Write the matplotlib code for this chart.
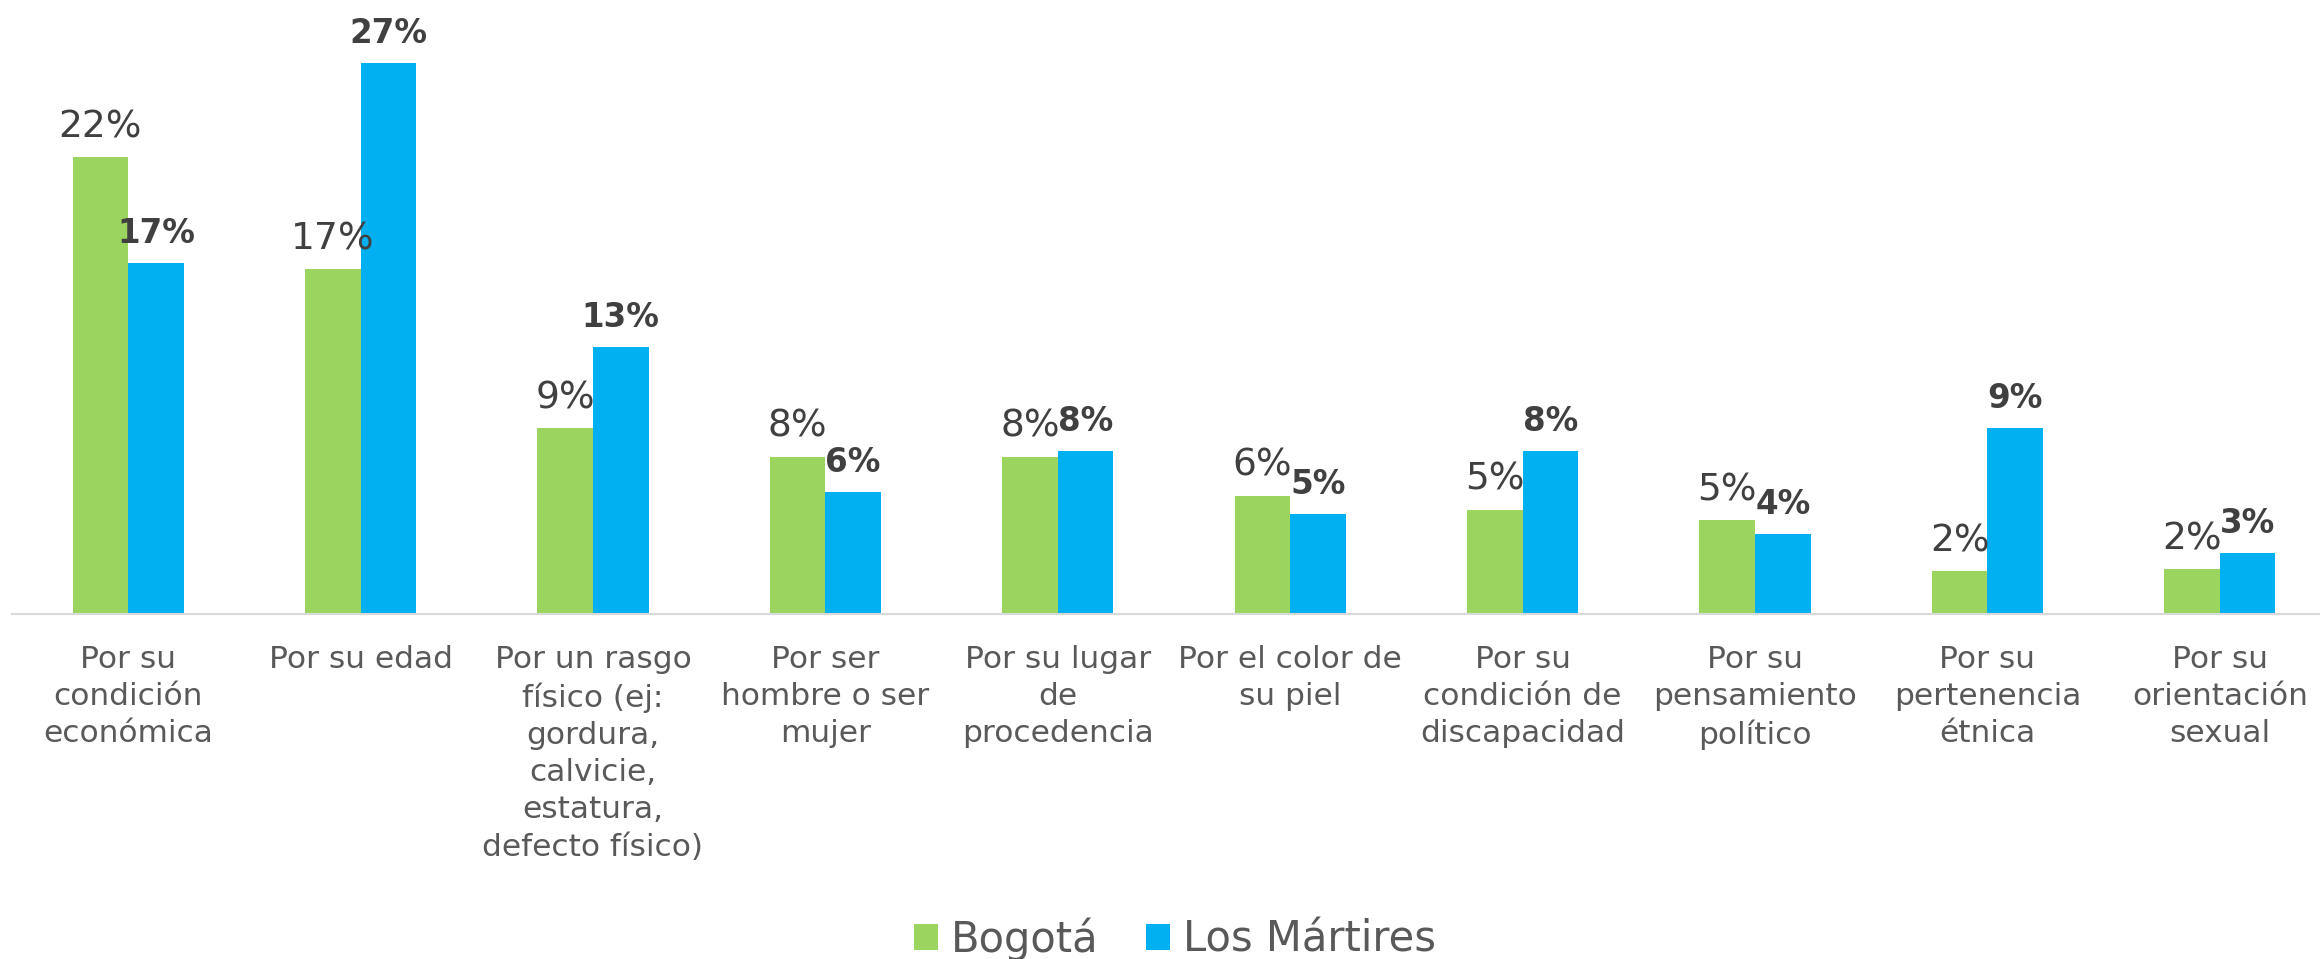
import matplotlib
matplotlib.use("Agg")
import matplotlib.pyplot as plt
import numpy as np

categories = [
    "Por su\ncondición\neconómica",
    "Por su edad",
    "Por un rasgo\nfísico (ej:\ngordura,\ncalvicie,\nestatura,\ndefecto físico)",
    "Por ser\nhombre o ser\nmujer",
    "Por su lugar\nde\nprocedencia",
    "Por el color de\nsu piel",
    "Por su\ncondición de\ndiscapacidad",
    "Por su\npensamiento\npolítico",
    "Por su\npertenencia\nétnica",
    "Por su\norientación\nsexual",
]
bogota = [22.4, 16.9, 9.1, 7.7, 7.7, 5.8, 5.1, 4.6, 2.1, 2.2]
martires = [17.2, 27.0, 13.1, 6.0, 8.0, 4.9, 8.0, 3.9, 9.1, 3.0]
series_names = ["Bogotá", "Los Mártires"]

GREEN = "#9BD55F"
BLUE = "#00B0F0"
TXT = "#404040"
TICK = "#595959"

plt.rcParams["font.family"] = ["DejaVu Sans"]

W, H = 2320, 959
fig = plt.figure(figsize=(W / 100, H / 100), dpi=100)
ax = fig.add_axes([12 / W, (H - 614) / H, 10 * 232.4 / W, 612 / H])

x = np.arange(len(categories))
bw = 0.239
b1 = ax.bar(x - bw / 2, bogota, width=bw, color=GREEN, label=series_names[0])
b2 = ax.bar(x + bw / 2, martires, width=bw, color=BLUE, label=series_names[1])

for rect, v in zip(b1, bogota):
    ax.annotate(f"{v:.0f}%", (rect.get_x() + rect.get_width() / 2, v),
                xytext=(0, 14.4), textcoords="offset points",
                ha="center", va="baseline", fontsize=27, color=TXT)
for rect, v in zip(b2, martires):
    ax.annotate(f"{v:.0f}%", (rect.get_x() + rect.get_width() / 2, v),
                xytext=(0, 14.4), textcoords="offset points",
                ha="center", va="baseline", fontsize=23.5, color=TXT,
                fontweight="bold")

ax.set_xlim(-0.5, len(categories) - 0.5)
ax.set_ylim(0, 30)
ax.set_xticks(x)
ax.set_xticklabels(categories, fontsize=22.5, color=TICK, linespacing=1.35)
ax.tick_params(axis="x", length=0, pad=22.5)
ax.set_yticks([])
for s in ["top", "left", "right"]:
    ax.spines[s].set_visible(False)
ax.spines["bottom"].set_color("#D9D9D9")
ax.spines["bottom"].set_linewidth(1.5)
ax.set_facecolor("none")

leg = fig.legend(handles=[b1, b2], labels=series_names, loc="center",
                 bbox_to_anchor=(1175 / W, 1 - 939 / H), ncol=2, frameon=False,
                 fontsize=30, handlelength=0.576, handleheight=0.576,
                 handletextpad=0.31, columnspacing=1.15, borderpad=0)
for t in leg.get_texts():
    t.set_color(TICK)

fig.savefig("out.png", dpi=100)
